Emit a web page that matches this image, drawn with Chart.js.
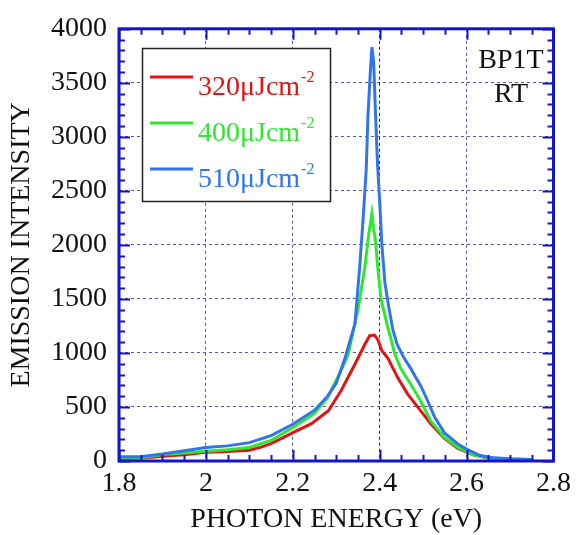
<!DOCTYPE html>
<html>
<head>
<meta charset="utf-8">
<script src="https://cdn.jsdelivr.net/npm/chart.js@4.4.1/dist/chart.umd.min.js"></script>
<style>
  html, body { margin: 0; padding: 0; background: #fff; }
  canvas { display: block; }
</style>
</head>
<body>
<canvas id="emission-chart" width="577" height="535"></canvas>
<script>
/**
 * Data
 */
const legendLabels = ['320μJcm', '400μJcm', '510μJcm'];
const legendSup = '-2';
const lineColors = ['#e01414', '#2ee82e', '#3075ee'];

const redX = [1.80, 1.85, 1.90, 1.95, 2.00, 2.05, 2.10, 2.127, 2.15, 2.197, 2.243, 2.282, 2.311, 2.343, 2.366, 2.377, 2.388, 2.396, 2.405, 2.419, 2.442, 2.464, 2.494, 2.517, 2.549, 2.579, 2.617, 2.65, 2.70, 2.75];
const redY = [20, 25, 45, 58, 80, 88, 100, 128, 160, 255, 345, 465, 650, 895, 1080, 1160, 1165, 1120, 1020, 950, 767, 621, 466, 347, 210, 119, 55, 28, 16, 10];

const greenX = [1.80, 1.85, 1.90, 1.95, 2.00, 2.05, 2.10, 2.15, 2.20, 2.25, 2.28, 2.31, 2.327, 2.339, 2.35, 2.366, 2.373, 2.376, 2.378, 2.382, 2.386, 2.390, 2.396, 2.403, 2.419, 2.426, 2.434, 2.448, 2.471, 2.494, 2.517, 2.549, 2.579, 2.617, 2.65, 2.70, 2.75];
const greenY = [25, 28, 60, 75, 90, 105, 125, 190, 310, 440, 585, 830, 980, 1200, 1400, 1800, 2040, 2130, 2180, 2290, 2150, 2050, 1770, 1500, 1230, 1130, 1000, 860, 712, 557, 374, 219, 128, 55, 30, 18, 12];

const blueX = [1.80, 1.85, 1.90, 1.95, 2.00, 2.05, 2.10, 2.15, 2.20, 2.25, 2.28, 2.30, 2.32, 2.343, 2.354, 2.362, 2.369, 2.373, 2.378, 2.382, 2.386, 2.390, 2.395, 2.400, 2.405, 2.412, 2.419, 2.430, 2.440, 2.455, 2.471, 2.485, 2.494, 2.510, 2.526, 2.549, 2.579, 2.60, 2.631, 2.66, 2.70, 2.75];
const blueY = [40, 40, 65, 95, 125, 140, 170, 235, 340, 470, 600, 720, 950, 1270, 1800, 2250, 2700, 3200, 3570, 3830, 3700, 3250, 2750, 2400, 2000, 1650, 1470, 1220, 1080, 960, 860, 760, 700, 560, 410, 260, 160, 110, 50, 30, 20, 15];

const xMin = 1.8, xMax = 2.8, xStep = 0.2, xMinorStep = 0.05;
const yMin = 0, yMax = 4000, yStep = 500, yMinorStep = 100;

const SERIF = '"Liberation Serif", "Times New Roman", serif';
const FRAME = '#1414c8';
const GRID = '#5656a6';

function toPoints(xs, ys) {
    let pts = [];
    for (let i = 0; i < xs.length; i++) {
        pts.push({ x: xs[i], y: ys[i] });
    }
    return pts;
}

/**
 * Draws the blue frame with inner ticks, the legend box and the sample text
 */
const framePlugin = {
    id: 'frame',
    afterDraw(chart) {
        const c = chart.ctx;
        const a = chart.chartArea;
        const xs = chart.scales.x;
        const ys = chart.scales.y;

        c.save();
        c.strokeStyle = FRAME;
        c.lineWidth = 2;
        c.beginPath();
        for (let v = xMin; v <= xMax + 1e-9; v += xMinorStep) {
            const px = Math.round(xs.getPixelForValue(v)) + 0.5;
            const major = Math.abs(Math.round(v / xStep) * xStep - v) < 1e-6;
            const len = major ? 11 : 6;
            c.moveTo(px, a.bottom); c.lineTo(px, a.bottom - len);
            c.moveTo(px, a.top); c.lineTo(px, a.top + len);
        }
        for (let v = yMin; v <= yMax + 1e-9; v += yMinorStep) {
            const py = Math.round(ys.getPixelForValue(v)) + 0.5;
            const major = v % yStep === 0;
            const len = major ? 11 : 6;
            c.moveTo(a.left, py); c.lineTo(a.left + len, py);
            c.moveTo(a.right, py); c.lineTo(a.right - len, py);
        }
        c.stroke();

        c.lineWidth = 3;
        c.strokeRect(a.left, a.top, a.right - a.left, a.bottom - a.top);

        // legend box
        c.fillStyle = '#fff';
        c.fillRect(142, 48, 188, 153);
        c.strokeStyle = '#222';
        c.lineWidth = 1.5;
        c.strokeRect(142.5, 48.5, 188, 153);

        for (let i = 0; i < legendLabels.length; i++) {
            const ly = 77 + i * 46;
            c.strokeStyle = lineColors[i];
            c.lineWidth = 2.8;
            c.beginPath();
            c.moveTo(150, ly); c.lineTo(193, ly);
            c.stroke();

            c.fillStyle = lineColors[i];
            c.textAlign = 'left';
            c.textBaseline = 'alphabetic';
            c.font = '28px ' + SERIF;
            c.fillText(legendLabels[i], 198, ly + 18);
            const w = c.measureText(legendLabels[i]).width;
            c.font = '16px ' + SERIF;
            c.fillText(legendSup, 198 + w + 1, ly + 5);
        }

        c.fillStyle = '#111';
        c.textAlign = 'center';
        c.font = '28px ' + SERIF;
        c.fillText('BP1T', 511, 68);
        c.fillText('RT', 511, 102);
        c.restore();
    }
};

const ctx = document.getElementById('emission-chart');
const myChart = new Chart(ctx, {
    type: 'line',
    data: {
        datasets: [
            { label: legendLabels[0] + legendSup, data: toPoints(redX, redY), borderColor: lineColors[0], order: 3 },
            { label: legendLabels[1] + legendSup, data: toPoints(greenX, greenY), borderColor: lineColors[1], order: 2 },
            { label: legendLabels[2] + legendSup, data: toPoints(blueX, blueY), borderColor: lineColors[2], order: 1 }
        ]
    },
    options: {
        responsive: false,
        animation: false,
        devicePixelRatio: 1,
        layout: { padding: { top: 23, right: 20, left: 0, bottom: 0 } },
        elements: {
            line: { borderWidth: 3, tension: 0 },
            point: { radius: 0 }
        },
        plugins: {
            legend: { display: false },
            tooltip: { enabled: false }
        },
        scales: {
            x: {
                type: 'linear',
                min: xMin,
                max: xMax,
                afterFit(scale) { scale.height = 74; },
                ticks: {
                    stepSize: xStep,
                    padding: 6,
                    color: '#111',
                    font: { family: SERIF, size: 28 },
                    maxRotation: 0,
                    callback: (v) => Number(v.toFixed(1)).toString()
                },
                border: { display: false, dash: [3, 3] },
                grid: {
                    drawTicks: false,
                    color: (c) => (c.tick && Math.abs(c.tick.value - 2.4) < 1e-6) ? '#1010ff' : GRID,
                    lineWidth: 1
                },
                title: {
                    display: true,
                    text: 'PHOTON ENERGY (eV)',
                    color: '#111',
                    font: { family: SERIF, size: 28, lineHeight: 1 },
                    padding: { top: 0, bottom: 1 }
                }
            },
            y: {
                min: yMin,
                max: yMax,
                afterFit(scale) { scale.width = 119; },
                ticks: {
                    stepSize: yStep,
                    padding: 12,
                    color: '#111',
                    font: { family: SERIF, size: 28 },
                    callback: (v) => String(v)
                },
                border: { display: false, dash: [3, 3] },
                grid: {
                    drawTicks: false,
                    color: GRID,
                    lineWidth: 1
                },
                title: {
                    display: true,
                    text: 'EMISSION INTENSITY',
                    color: '#111',
                    font: { family: SERIF, size: 28, lineHeight: 1 },
                    padding: { top: 8, bottom: 0 }
                }
            }
        }
    },
    plugins: [framePlugin]
});
</script>
</body>
</html>
